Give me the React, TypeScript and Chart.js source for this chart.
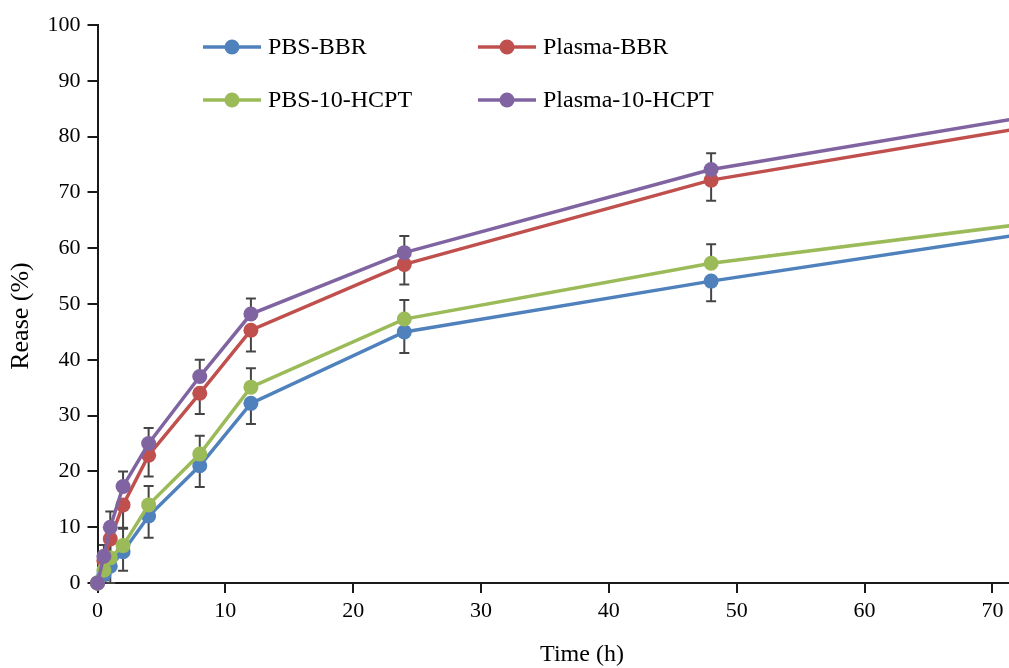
import React, { useEffect, useRef } from "react";
import { Chart, registerables } from "chart.js";

Chart.register(...registerables);

const timeH = [0, 0.5, 1, 2, 4, 8, 12, 24, 48, 72];
const pbsBBR = [0, 1.5, 3, 5.6, 12, 21, 32.2, 45, 54.1, 62.4];
const plasmaBBR = [0, 4, 7.9, 14, 22.9, 34, 45.3, 57.1, 72.2, 81.4];
const pbsHCPT = [0, 2.3, 4.5, 6.7, 14, 23.1, 35.1, 47.3, 57.3, 64.2];
const plasmaHCPT = [0, 4.8, 10, 17.3, 25, 37, 48.2, 59.2, 74.1, 83.3];

const errPbsBBR = [0, 1, 3, 3.4, 3.9, 3.8, 3.7, 3.8, 3.6, 0];
const errPlasmaBBR = [0, 2, 3, 4.1, 3.8, 3.7, 3.8, 3.6, 3.7, 0];
const errPbsHCPT = [0, 1.5, 2.5, 3, 3.4, 3.3, 3.4, 3.4, 3.4, 0];
const errPlasmaHCPT = [0, 2, 2.8, 2.7, 2.8, 3, 2.8, 3, 2.9, 0];

const yTicks = [0, 10, 20, 30, 40, 50, 60, 70, 80, 90, 100];
const xTicks = [0, 10, 20, 30, 40, 50, 60, 70];

const seriesNames = ["PBS-BBR", "Plasma-BBR", "PBS-10-HCPT", "Plasma-10-HCPT"];
const colors = ["#4F81BD", "#C0504D", "#9BBB59", "#8064A2"];

const FONT = "'Liberation Serif', 'Times New Roman', serif";

const errorBarPlugin = {
  id: "errorBars",
  beforeDatasetsDraw(chart: any) {
    const { ctx } = chart;
    const xs = chart.scales.x;
    const ys = chart.scales.y;
    ctx.save();
    ctx.strokeStyle = "#454545";
    ctx.lineWidth = 2;
    chart.data.datasets.forEach((ds: any) => {
      const errs: number[] = ds.errors;
      const dir: number = ds.errDir;
      if (!errs) return;
      ds.data.forEach((p: any, i: number) => {
        const e = errs[i];
        if (!e) return;
        const px = xs.getPixelForValue(p.x);
        const py0 = ys.getPixelForValue(p.y);
        const py1 = ys.getPixelForValue(p.y + dir * e);
        ctx.beginPath();
        ctx.moveTo(px, py0);
        ctx.lineTo(px, py1);
        ctx.moveTo(px - 5, py1);
        ctx.lineTo(px + 5, py1);
        ctx.stroke();
      });
    });
    ctx.restore();
  },
};

const legendItems = [
  { idx: 0, x: 203, y: 47 },
  { idx: 1, x: 478, y: 47 },
  { idx: 2, x: 203, y: 100 },
  { idx: 3, x: 478, y: 100 },
];

const overlayPlugin = {
  id: "overlay",
  afterDraw(chart: any) {
    const { ctx } = chart;
    const xs = chart.scales.x;
    const area = chart.chartArea;
    ctx.save();
    legendItems.forEach((it) => {
      const c = colors[it.idx];
      ctx.strokeStyle = c;
      ctx.lineWidth = 3.5;
      ctx.beginPath();
      ctx.moveTo(it.x, it.y);
      ctx.lineTo(it.x + 58, it.y);
      ctx.stroke();
      ctx.fillStyle = c;
      ctx.beginPath();
      ctx.arc(it.x + 29, it.y, 7.5, 0, Math.PI * 2);
      ctx.fill();
      ctx.fillStyle = "#000";
      ctx.font = `24px ${FONT}`;
      ctx.textAlign = "left";
      ctx.textBaseline = "middle";
      ctx.fillText(seriesNames[it.idx], it.x + 65, it.y + 1);
    });
    ctx.fillStyle = "#000";
    ctx.font = `24px ${FONT}`;
    ctx.textAlign = "center";
    ctx.textBaseline = "middle";
    ctx.fillText("Time (h)", xs.getPixelForValue(37.9), 655);
    ctx.font = `26px ${FONT}`;
    ctx.translate(21, (area.top + area.bottom) / 2 + 12);
    ctx.rotate(-Math.PI / 2);
    ctx.fillText("Rease (%)", 0, 0);
    ctx.restore();
  },
};

export default function App() {
  const ref = useRef<HTMLCanvasElement>(null);
  useEffect(() => {
    if (!ref.current) return;
    const sets = [
      { v: pbsBBR, e: errPbsBBR, dir: -1, order: 4 },
      { v: plasmaBBR, e: errPlasmaBBR, dir: -1, order: 3 },
      { v: pbsHCPT, e: errPbsHCPT, dir: 1, order: 2 },
      { v: plasmaHCPT, e: errPlasmaHCPT, dir: 1, order: 1 },
    ];
    const chart = new Chart(ref.current, {
      type: "line",
      data: {
        datasets: sets.map((s, i) => ({
          label: seriesNames[i],
          data: timeH.map((t, j) => ({ x: t, y: s.v[j] })),
          borderColor: colors[i],
          backgroundColor: colors[i],
          borderWidth: 3.5,
          pointRadius: 7.5,
          pointBorderWidth: 0,
          pointBackgroundColor: colors[i],
          tension: 0,
          clip: false,
          order: s.order,
          errors: s.e,
          errDir: s.dir,
        })) as any,
      },
      options: {
        animation: false,
        responsive: false,
        layout: { autoPadding: false, padding: { top: 25, left: 0, right: 0, bottom: 0 } },
        plugins: {
          legend: { display: false },
          tooltip: { enabled: false },
        },
        scales: {
          x: {
            type: "linear",
            min: 0,
            max: 71.3,
            afterBuildTicks: (scale: any) => {
              scale.ticks = xTicks.map((v) => ({ value: v }));
            },
            afterFit: (scale: any) => {
              scale.height = 85;
              scale.paddingRight = 0;
              scale.paddingLeft = 0;
            },
            border: { display: true, color: "#1a1a1a", width: 2 },
            grid: {
              drawOnChartArea: false,
              drawTicks: true,
              tickLength: 10,
              color: "#1a1a1a",
              lineWidth: 2,
            },
            ticks: {
              color: "#000",
              padding: 5,
              maxRotation: 0,
              font: { family: FONT, size: 22 },
            },
          },
          y: {
            type: "linear",
            min: 0,
            max: 100,
            afterBuildTicks: (scale: any) => {
              scale.ticks = yTicks.map((v) => ({ value: v }));
            },
            afterFit: (scale: any) => {
              scale.width = 97.5;
              scale.paddingTop = 0;
              scale.paddingBottom = 0;
            },
            border: { display: true, color: "#1a1a1a", width: 2 },
            grid: {
              drawOnChartArea: false,
              drawTicks: true,
              tickLength: 10,
              color: "#1a1a1a",
              lineWidth: 2,
            },
            ticks: {
              color: "#000",
              padding: 7,
              font: { family: FONT, size: 22 },
            },
          },
        },
      },
      plugins: [errorBarPlugin, overlayPlugin],
    });
    return () => chart.destroy();
  }, []);
  return (
    <div style={{ position: "fixed", left: 0, top: 0, width: 1009, height: 668, background: "#fff" }}>
      <canvas ref={ref} width={1009} height={668} />
    </div>
  );
}
